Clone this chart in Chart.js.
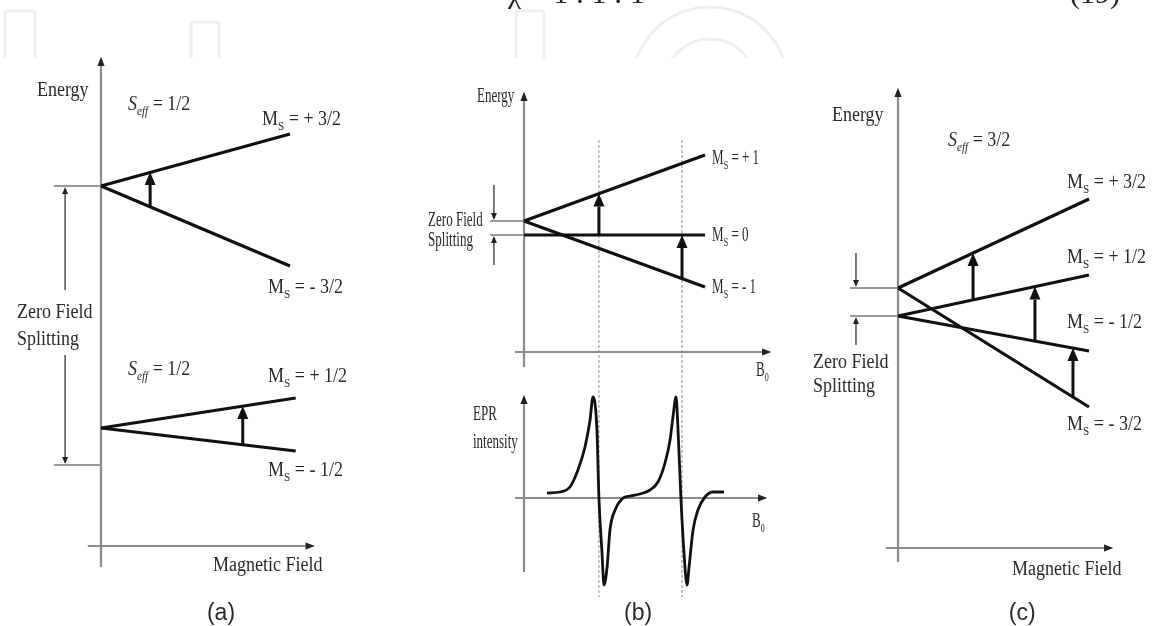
<!DOCTYPE html>
<html>
<head>
<meta charset="utf-8">
<script src="https://cdn.jsdelivr.net/npm/chart.js@4.4.0/dist/chart.umd.min.js"></script>
<style>
  html, body { margin: 0; padding: 0; background: #fff; }
  #wrap { position: relative; width: 1161px; height: 626px; }
</style>
</head>
<body>
<div id="wrap"><canvas id="fig" width="1161" height="626"></canvas></div>
<script>
// ---- data (arbitrary units) ----
// (a) S_eff = 1/2 doublets, energy vs magnetic field
const fieldA = [0, 10];
const levelA_p32 = [18, 20.6];
const levelA_m32 = [18, 14];
const fieldA_low = [0, 10.3];
const levelA_p12 = [5.9, 7.4];
const levelA_m12 = [5.9, 4.75];
const transA_field = [2.6, 7.5];
const transA_from = [16.95, 5.05];
const transA_to = [18.7, 7.0];
const zfsA = [18, 4.05];

// (b) S = 1 levels vs B0
const fieldB = [0, 10];
const levelB_p1 = [6.55, 9.85];
const levelB_0 = [5.85, 5.85];
const levelB_m1 = [6.55, 3.25];
const resonanceB = [4.14, 8.73];
const transB_from = [5.85, 3.7];
const transB_to = [7.92, 5.85];
const zfsB = [6.55, 5.85];

// (b) EPR derivative spectrum
const eprField = [1.27, 1.99, 2.54, 2.98, 3.37, 3.65, 3.81, 4.03, 4.14, 4.31, 4.42, 4.59, 4.75, 5.03, 5.41, 5.86, 6.41,
                  6.96, 7.40, 7.79, 8.07, 8.23, 8.40, 8.51, 8.67, 8.84, 9.01, 9.12, 9.34, 9.61, 10.0, 10.44, 11.05];
const eprSignal = [0.05, 0.06, 0.11, 0.28, 0.51, 0.78, 1.01, 0.68, 0, -0.55, -0.87, -0.69, -0.32, -0.12, -0.01, 0.02, 0.04,
                   0.08, 0.16, 0.35, 0.58, 0.81, 1.01, 0.68, 0, -0.55, -0.87, -0.69, -0.32, -0.12, 0.01, 0.06, 0.06];

// (c) S_eff = 3/2 quartet
const fieldC = [0, 10];
const levelC_p32 = [13, 17.45];
const levelC_p12 = [11.6, 13.65];
const levelC_m12 = [11.6, 9.85];
const levelC_m32 = [13, 7.05];
const transC_field = [3.93, 7.17, 9.16];
const transC_from = [12.4, 10.35, 7.55];
const transC_to = [14.75, 13.07, 10.0];
const zfsC = [13, 11.6];

// ---- layout ----
const W = 1161, H = 626;
const INK = '#111';
const TEXT = '#2a2a2a';
const AXIS = '#8c8c8c';
// pixel origin of each panel's axes and pixels per unit
const PANELS = {
    a: { ox: 101, oy: 546, kx: 18.9, ky: 20 },
    b: { ox: 524, oy: 352, kx: 18.1, ky: 20 },
    e: { ox: 524, oy: 498, kx: 18.1, ky: 100 },
    c: { ox: 898, oy: 548, kx: 19.1, ky: 20 }
};
// axis extents in panel units: [x from, x to (arrow)], [y from, y to (arrow)]
const AXES = {
    a: { x: [-0.7, 11.3], y: [-1.05, 24.45] },
    b: { x: [-0.5, 13.65], y: [-0.75, 13] },
    e: { x: [-0.5, 13.43], y: [-0.74, 1.03] },
    c: { x: [-0.63, 11.26], y: [-0.7, 23] }
};
// zero field splitting brackets: tick start, arrow x, arrow tails
const ZFS = {
    a: { levels: zfsA, x0: -2.5, ax: -1.9, tails: [12.8, 9.55] },
    b: { levels: zfsB, x0: -1.88, ax: -1.66, tails: [8.35, 4.35] },
    c: { levels: zfsC, x0: -2.51, ax: -2.2, tails: [14.75, 10.15] }
};

const MS = (v) => [['M'], ['S', 'sub'], [' = ' + v]];
const SEFF = (v) => [['S', 'i'], ['eff', 'isub'], [' = ' + v]];
const B0 = [['B'], ['0', 'sub']];
const STYLE = { a: [20, 0.9], c: [20, 0.9], b: [21, 0.62], e: [21, 0.62] };

const LABELS = [
    { p: 'a', x: -3.39, y: 22.75, parts: [['Energy']] },
    { p: 'a', x: 1.43, y: 22.05, parts: SEFF('1/2') },
    { p: 'a', x: 8.52, y: 21.3, parts: MS('+ 3/2') },
    { p: 'a', x: 8.84, y: 12.9, parts: MS('- 3/2') },
    { p: 'a', x: -4.44, y: 11.68, parts: [['Zero Field']] },
    { p: 'a', x: -4.44, y: 10.3, parts: [['Splitting']] },
    { p: 'a', x: 1.43, y: 8.8, parts: SEFF('1/2') },
    { p: 'a', x: 8.84, y: 8.45, parts: MS('+ 1/2') },
    { p: 'a', x: 8.84, y: 3.75, parts: MS('- 1/2') },
    { p: 'a', x: 5.93, y: -1.0, parts: [['Magnetic Field']] },

    { p: 'b', x: -2.6, y: 12.8, parts: [['Energy']] },
    { p: 'b', x: -5.3, y: 6.6, parts: [['Zero Field']] },
    { p: 'b', x: -5.3, y: 5.6, parts: [['Splitting']] },
    { p: 'b', x: 10.39, y: 9.7, parts: MS('+ 1') },
    { p: 'b', x: 10.39, y: 5.85, parts: MS('0') },
    { p: 'b', x: 10.39, y: 3.25, parts: MS('- 1') },
    { p: 'b', x: 12.82, y: -0.9, parts: B0 },
    { p: 'e', x: -2.82, y: 0.84, parts: [['EPR']] },
    { p: 'e', x: -2.82, y: 0.56, parts: [['intensity']] },
    { p: 'e', x: 12.6, y: -0.23, parts: B0 },

    { p: 'c', x: -3.46, y: 21.6, parts: [['Energy']] },
    { p: 'c', x: 2.62, y: 20.35, parts: SEFF('3/2') },
    { p: 'c', x: 8.85, y: 18.25, parts: MS('+ 3/2') },
    { p: 'c', x: 8.85, y: 14.5, parts: MS('+ 1/2') },
    { p: 'c', x: 8.85, y: 11.25, parts: MS('- 1/2') },
    { p: 'c', x: 8.85, y: 6.15, parts: MS('- 3/2') },
    { p: 'c', x: -4.45, y: 9.25, parts: [['Zero Field']] },
    { p: 'c', x: -4.45, y: 8.05, parts: [['Splitting']] },
    { p: 'c', x: 5.97, y: -1.1, parts: [['Magnetic Field']] }
];
const CAPTIONS = [
    { p: 'a', x: 6.35, y: -3.4, text: '(a)' },
    { p: 'e', x: 6.3, y: -1.16, text: '(b)' },
    { p: 'c', x: 6.5, y: -3.3, text: '(c)' }
];

function xRange(o, k) { return { min: -o / k, max: (W - o) / k }; }
function yRange(o, k) { return { min: -(H - o) / k, max: o / k }; }

const scales = {};
for (const p in PANELS) {
    const g = PANELS[p];
    scales['x' + p] = Object.assign({ type: 'linear', axis: 'x', display: false, bounds: 'data' }, xRange(g.ox, g.kx));
    scales['y' + p] = Object.assign({ type: 'linear', axis: 'y', display: false, bounds: 'data' }, yRange(g.oy, g.ky));
}

function lineSet(p, xs, ys, extra) {
    return Object.assign({
        data: xs.map((x, i) => ({ x: x, y: ys[i] })),
        xAxisID: 'x' + p,
        yAxisID: 'y' + p,
        showLine: true,
        pointRadius: 0,
        borderColor: INK,
        borderWidth: 3.2,
        borderCapStyle: 'butt',
        fill: false
    }, extra || {});
}

const datasets = [
    lineSet('a', fieldA, levelA_p32),
    lineSet('a', fieldA, levelA_m32),
    lineSet('a', fieldA_low, levelA_p12),
    lineSet('a', fieldA_low, levelA_m12),
    lineSet('b', fieldB, levelB_p1),
    lineSet('b', fieldB, levelB_0),
    lineSet('b', fieldB, levelB_m1),
    lineSet('e', eprField, eprSignal, { borderWidth: 2.8, cubicInterpolationMode: 'monotone' }),
    lineSet('c', fieldC, levelC_p32),
    lineSet('c', fieldC, levelC_p12),
    lineSet('c', fieldC, levelC_m12),
    lineSet('c', fieldC, levelC_m32)
];
// resonance positions, dashed through both (b) plots
resonanceB.forEach(b => {
    datasets.push(lineSet('b', [b, b], [10.6, -12.25], { borderColor: '#8a8a8a', borderWidth: 1, borderDash: [3, 2] }));
});

// ---- drawing helpers ----
function arrow(ctx, x1, y1, x2, y2, lw, hl, hw, color) {
    const a = Math.atan2(y2 - y1, x2 - x1);
    const bx = x2 - hl * Math.cos(a), by = y2 - hl * Math.sin(a);
    ctx.strokeStyle = color;
    ctx.fillStyle = color;
    ctx.lineWidth = lw;
    ctx.beginPath();
    ctx.moveTo(x1, y1);
    ctx.lineTo(bx, by);
    ctx.stroke();
    ctx.beginPath();
    ctx.moveTo(x2, y2);
    ctx.lineTo(bx + hw / 2 * Math.sin(a), by - hw / 2 * Math.cos(a));
    ctx.lineTo(bx - hw / 2 * Math.sin(a), by + hw / 2 * Math.cos(a));
    ctx.closePath();
    ctx.fill();
}

function richText(ctx, x, y, parts, size, sx, family, align) {
    ctx.save();
    ctx.fillStyle = TEXT;
    ctx.textBaseline = 'middle';
    ctx.textAlign = 'left';
    const fontOf = (st) => {
        const sub = st === 'sub' || st === 'isub';
        const it = st === 'i' || st === 'isub';
        return (it ? 'italic ' : '') + (sub ? size * 0.62 : size) + 'px "' + family + '"';
    };
    let total = 0;
    parts.forEach(([t, st = '']) => { ctx.font = fontOf(st); total += ctx.measureText(t).width; });
    ctx.translate(x, y);
    ctx.scale(sx, 1);
    let cx = align === 'center' ? -total / 2 : 0;
    parts.forEach(([t, st = '']) => {
        ctx.font = fontOf(st);
        const sub = st === 'sub' || st === 'isub';
        ctx.fillText(t, cx, sub ? size * 0.34 : 0);
        cx += ctx.measureText(t).width;
    });
    ctx.restore();
}

function drawBackdrop(ctx) {
    // faint publisher watermark and the cut-off equation above the figure
    ctx.save();
    ctx.beginPath();
    ctx.rect(0, 0, W, 58);
    ctx.clip();
    ctx.strokeStyle = '#efefef';
    ctx.lineWidth = 3;
    [[5, 11, 30], [191, 22, 28], [516, 11, 28]].forEach(([x, y, w]) => {
        ctx.beginPath();
        ctx.moveTo(x, 62);
        ctx.lineTo(x, y + 3);
        ctx.quadraticCurveTo(x, y, x + 3, y);
        ctx.lineTo(x + w - 3, y);
        ctx.quadraticCurveTo(x + w, y, x + w, y + 3);
        ctx.lineTo(x + w, 62);
        ctx.stroke();
    });
    [78, 46].forEach(r => {
        ctx.beginPath();
        ctx.arc(710, 85, r, Math.PI, 2 * Math.PI);
        ctx.stroke();
    });
    ctx.restore();
    ctx.save();
    ctx.fillStyle = '#222';
    ctx.font = '30px "Liberation Serif"';
    ctx.textBaseline = 'alphabetic';
    ctx.fillText('\u03c7 = 1 : 1 : 1', 508, 3);
    ctx.fillText('(19)', 1070, 3);
    ctx.restore();
}

const diagram = {
    id: 'diagram',
    beforeDatasetsDraw(chart) {
        const ctx = chart.ctx;
        const px = (p, v) => chart.scales['x' + p].getPixelForValue(v);
        const py = (p, v) => chart.scales['y' + p].getPixelForValue(v);
        drawBackdrop(ctx);
        ctx.save();
        for (const p in AXES) {
            const ax = AXES[p];
            arrow(ctx, px(p, 0), py(p, ax.y[0]), px(p, 0), py(p, ax.y[1]), 2.2, 9, 7, AXIS);
            arrow(ctx, px(p, ax.x[0]), py(p, 0), px(p, ax.x[1]), py(p, 0), 2.2, 9, 7, AXIS);
            // dark tips
            arrow(ctx, px(p, 0), py(p, ax.y[1]) + 9, px(p, 0), py(p, ax.y[1]), 0.1, 9, 7, '#222');
            arrow(ctx, px(p, ax.x[1]) - 9, py(p, 0), px(p, ax.x[1]), py(p, 0), 0.1, 9, 7, '#222');
        }
        for (const p in ZFS) {
            const z = ZFS[p];
            ctx.strokeStyle = '#999';
            ctx.lineWidth = 2;
            z.levels.forEach(v => {
                ctx.beginPath();
                ctx.moveTo(px(p, z.x0), py(p, v));
                ctx.lineTo(px(p, 0), py(p, v));
                ctx.stroke();
            });
        }
        ctx.restore();
    },
    afterDatasetsDraw(chart) {
        const ctx = chart.ctx;
        const px = (p, v) => chart.scales['x' + p].getPixelForValue(v);
        const py = (p, v) => chart.scales['y' + p].getPixelForValue(v);
        ctx.save();
        // zero field splitting arrows
        for (const p in ZFS) {
            const z = ZFS[p];
            z.levels.forEach((v, i) => {
                arrow(ctx, px(p, z.ax), py(p, z.tails[i]), px(p, z.ax), py(p, v) + (z.tails[i] > v ? -1 : 1), 1.2, 7, 6, '#222');
            });
        }
        // EPR transitions
        const trans = [
            ['a', transA_field, transA_from, transA_to],
            ['b', resonanceB, transB_from, transB_to],
            ['c', transC_field, transC_from, transC_to]
        ];
        trans.forEach(([p, xs, from, to]) => {
            xs.forEach((x, i) => {
                arrow(ctx, px(p, x), py(p, from[i]), px(p, x), py(p, to[i]), 3, 13, 11, INK);
            });
        });
        // labels
        LABELS.forEach(l => {
            const st = STYLE[l.p];
            richText(ctx, px(l.p, l.x), py(l.p, l.y), l.parts, st[0], st[1], 'Liberation Serif', 'left');
        });
        CAPTIONS.forEach(c => {
            richText(ctx, px(c.p, c.x), py(c.p, c.y), [[c.text]], 23, 1, 'Liberation Sans', 'center');
        });
        ctx.restore();
    }
};

new Chart(document.getElementById('fig').getContext('2d'), {
    type: 'scatter',
    data: { datasets: datasets },
    options: {
        responsive: false,
        animation: false,
        devicePixelRatio: 1,
        events: [],
        layout: { padding: 0 },
        scales: scales,
        plugins: {
            legend: { display: false },
            tooltip: { enabled: false },
            title: { display: false }
        }
    },
    plugins: [diagram]
});
</script>
</body>
</html>
